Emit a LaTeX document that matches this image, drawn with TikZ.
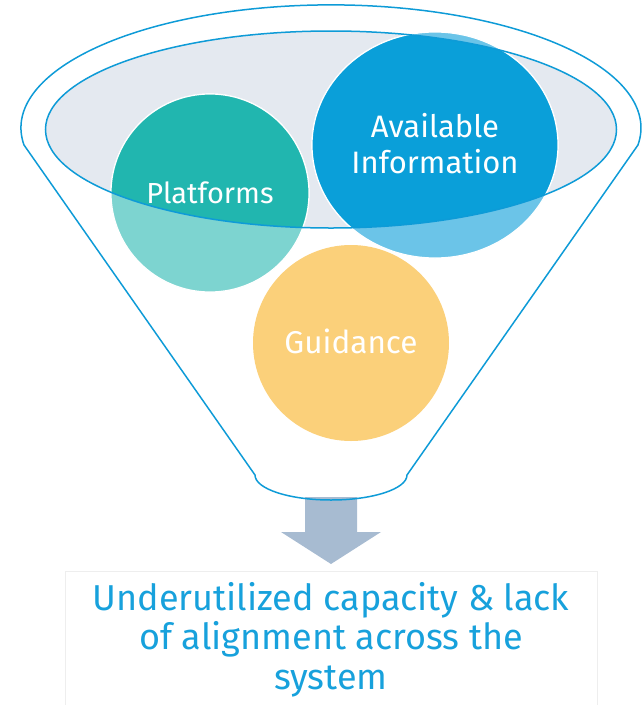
\documentclass[tikz,border=0pt]{standalone}
\usepackage{fontspec}
\setmainfont{Fira Sans}
\usetikzlibrary{calc}
\definecolor{funnelblue}{HTML}{0E9BD7}
\definecolor{mouthgrey}{HTML}{E4E9F0}
\definecolor{tealdark}{HTML}{21B6AF}
\definecolor{teallight}{HTML}{7DD4D0}
\definecolor{bluedark}{HTML}{0A9FD9}
\definecolor{bluelight}{HTML}{6BC4E8}
\definecolor{guidyellow}{HTML}{FBD07A}
\definecolor{arrowgrey}{HTML}{A7BBD1}
\definecolor{boxgrey}{HTML}{EEEEEE}
\definecolor{captionblue}{HTML}{17A1DC}

\begin{document}
\begin{tikzpicture}[x=1pt, y=-1pt, every node/.style={align=center, inner sep=0pt}]
			\useasboundingbox (0,0) rectangle (641,705);
			%boca del embudo
			\fill[mouthgrey] (331,129.5) ellipse [x radius=285.5, y radius=98.5];
			
			%circulos (parte clara)
			\filldraw[draw=white, line width=1.2pt, fill=teallight] (210,193) circle [radius=99];
			\filldraw[draw=white, line width=1.2pt, fill=bluelight] (435,145) ellipse [x radius=123, y radius=113];
			
			%circulos dentro de la boca
			\begin{scope}
				\clip (331,129.5) ellipse [x radius=285.5, y radius=98.5];
				\filldraw[draw=white, line width=1.2pt, fill=tealdark] (210,193) circle [radius=99];
				\filldraw[draw=white, line width=1.2pt, fill=bluedark] (435,145) ellipse [x radius=123, y radius=113];
			\end{scope}
			\draw[funnelblue, line width=1.5pt] (331,129.5) ellipse [x radius=285.5, y radius=98.5];
			
			\fill[guidyellow] (351,343) circle [radius=98];
			
			%flecha
			\fill[arrowgrey] (305,497) -- (357,497) -- (357,532) -- (381,532) -- (331,564) -- (281,532) -- (305,532) -- cycle;
			
			%embudo
			\draw[funnelblue, line width=1.5pt, line join=round] (24,145) arc [start angle=172, end angle=368, x radius=310, y radius=123] -- (407,475) arc [start angle=0, end angle=180, x radius=76, y radius=25] -- cycle;
			
			%textos
			\node[anchor=base, text=white, font=\fontsize{29}{36}\selectfont] (platforms) at (210,203) {Platforms};
			\node[anchor=base, text=white, font=\fontsize{31}{36}\selectfont] (avail) at (435,173) {Available\\Information};
			\node[anchor=base, text=white, font=\fontsize{31.5}{36}\selectfont] (guidance) at (351,353) {Guidance};
			
			%resultado
			\draw[boxgrey, fill=white] (65,571) rectangle (597,712);
			\node[anchor=base, text=captionblue, font=\fontsize{36}{39.5}\selectfont] (outcome) at (331,689) {Underutilized capacity \& lack\\of alignment across the\\system};
	\end{tikzpicture}
\end{document}
